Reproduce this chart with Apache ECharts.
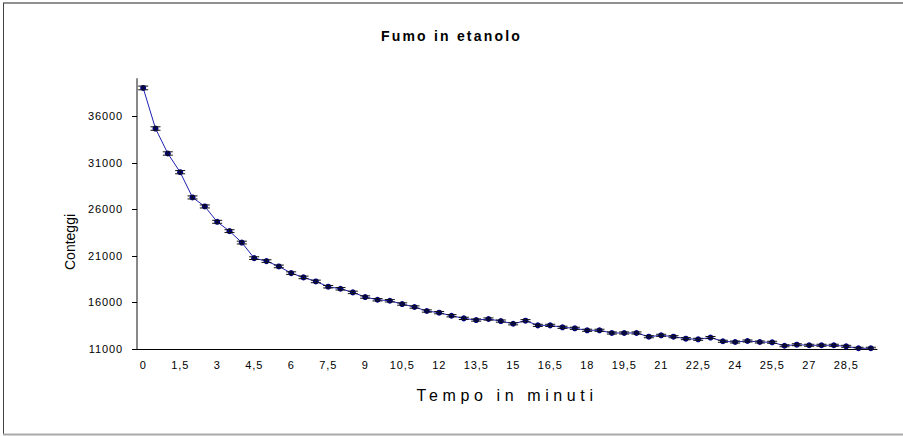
<!DOCTYPE html>
<html><head><meta charset="utf-8">
<script src="https://cdn.jsdelivr.net/npm/echarts@6/dist/echarts.min.js"></script>
<style>
html,body{margin:0;padding:0;background:#fff;}
#c{width:903px;height:436px;}
#c text[style*="11px"]{letter-spacing:0.9px;}
#c text[style*="bold"]{letter-spacing:2.2px;}
#c text[style*="16px"]{letter-spacing:4.6px;}
</style></head><body><div id="c"></div>
<script>
const minutes = ['0','0,5','1','1,5','2','2,5','3','3,5','4','4,5','5','5,5','6','6,5','7','7,5','8','8,5','9','9,5',
  '10','10,5','11','11,5','12','12,5','13','13,5','14','14,5','15','15,5','16','16,5','17','17,5','18','18,5','19','19,5',
  '20','20,5','21','21,5','22','22,5','23','23,5','24','24,5','25','25,5','26','26,5','27','27,5','28','28,5','29','29,5'];
const counts = [39040,34680,32000,29990,27280,26310,24660,23660,22430,20760,
  20440,19870,19150,18690,18260,17690,17470,17080,16580,16290,
  16180,15830,15510,15080,14900,14570,14290,14110,14220,14000,
  13710,14040,13540,13540,13330,13220,13010,13010,12720,12720,
  12720,12320,12470,12320,12110,12040,12230,11830,11750,11860,
  11750,11720,11350,11460,11400,11400,11400,11290,11080,11080];
const errors = [198,186,179,173,165,162,157,154,150,144,
  143,141,138,137,135,133,132,131,129,128,
  127,126,125,123,122,121,120,119,119,118,
  117,118,116,116,115,115,114,114,113,113,
  113,111,112,111,110,110,111,109,108,109,
  108,108,107,107,107,107,107,106,105,105];
const yTicks = [11000,16000,21000,26000,31000,36000];

const chart = echarts.init(document.getElementById('c'), null, {renderer:'svg'});
const FONT = 'Liberation Sans';
chart.setOption({
  animation:false,
  backgroundColor:'#fff',
  title:{text:'Fumo in etanolo', left:'center', top:24,
    textStyle:{fontFamily:FONT, fontSize:14, fontWeight:'bold', color:'#000'}},
  grid:{left:137, right:26, top:79, bottom:87},
  xAxis:{type:'category', data:minutes, boundaryGap:true,
    name:'Tempo in minuti', nameLocation:'middle', nameGap:38,
    nameTextStyle:{fontFamily:FONT, fontSize:16, color:'#000'},
    axisLine:{lineStyle:{color:'#000', width:1}},
    axisTick:{interval:2, length:4, lineStyle:{color:'#000'}},
    axisLabel:{interval:2, margin:10, fontFamily:FONT, fontSize:11, color:'#000'},
    splitLine:{show:false}},
  yAxis:{type:'value', min:11000, max:40000, interval:5000,
    axisLine:{show:true, lineStyle:{color:'#888', width:2}},
    axisTick:{show:true, length:5, customValues:yTicks, lineStyle:{color:'#000'}},
    axisLabel:{margin:14, customValues:yTicks, formatter:v=>String(v),
      fontFamily:FONT, fontSize:11, color:'#000'},
    splitLine:{show:false}},
  graphic:[
    {type:'line', shape:{x1:3,y1:3,x2:903,y2:3}, style:{stroke:'#222', lineWidth:1}, silent:true},
    {type:'line', shape:{x1:3.5,y1:3,x2:3.5,y2:434}, style:{stroke:'#444', lineWidth:1}, silent:true},
    {type:'line', shape:{x1:3,y1:434.5,x2:903,y2:434.5}, style:{stroke:'#aaa', lineWidth:2}, silent:true},
    {type:'text', x:70, y:242, rotation:Math.PI/2, silent:true,
      style:{text:'Conteggi', fontFamily:FONT, fontSize:14, fill:'#000', align:'center', verticalAlign:'middle'}}
  ],
  series:[
    {type:'line', data:counts, symbol:'circle', symbolSize:6,
      lineStyle:{color:'#2020b0', width:1},
      itemStyle:{color:'#000080'}, z:2},
    {type:'custom', data:counts.map((v,i)=>[i,v,errors[i]]), z:3,
      renderItem:function(params, api){
        const x = api.value(0), y = api.value(1), e = api.value(2);
        const t = api.coord([x, y+e]), b = api.coord([x, y-e]);
        const hw = 5;
        const st = {stroke:'#111', lineWidth:1};
        return {type:'group', children:[
          {type:'line', shape:{x1:t[0],y1:t[1],x2:b[0],y2:b[1]}, style:st},
          {type:'line', shape:{x1:t[0]-hw,y1:t[1],x2:t[0]+hw,y2:t[1]}, style:st},
          {type:'line', shape:{x1:b[0]-hw,y1:b[1],x2:b[0]+hw,y2:b[1]}, style:st}
        ]};
      }}
  ]
});
</script></body></html>
